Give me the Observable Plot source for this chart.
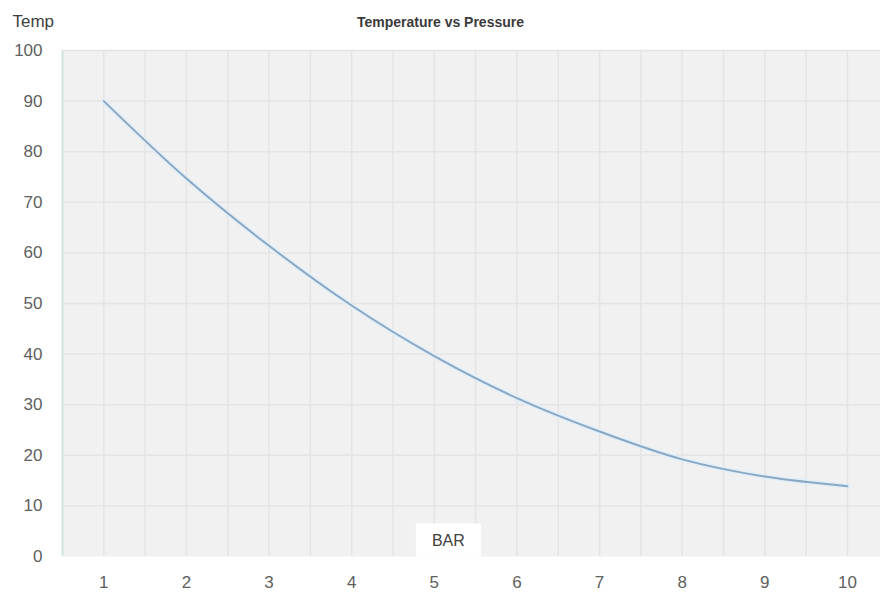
<!DOCTYPE html>
<html>
<head>
<meta charset="utf-8">
<script src="https://cdn.jsdelivr.net/npm/d3@7"></script>
<script src="https://cdn.jsdelivr.net/npm/@observablehq/plot@0.6"></script>
<style>
  html, body { margin: 0; padding: 0; background: #fff; }
  #chart { width: 880px; height: 598px; }
</style>
</head>
<body>
<div id="chart"></div>
<script>
const pressure = [1, 2, 3, 4, 5, 6, 7, 8, 9, 10];
const temperature = [90, 74.7, 61.4, 49.6, 39.6, 31.3, 24.7, 19.2, 15.8, 13.9];
const xTicks = [1, 2, 3, 4, 5, 6, 7, 8, 9, 10];
const yTicks = [0, 10, 20, 30, 40, 50, 60, 70, 80, 90, 100];
const xMinorGrid = [1, 1.5, 2, 2.5, 3, 3.5, 4, 4.5, 5, 5.5, 6, 6.5, 7, 7.5, 8, 8.5, 9, 9.5, 10];
const title = "Temperature vs Pressure";
const yLabel = "Temp";
const xLabel = "BAR";

const data = pressure.map((p, i) => ({p, t: temperature[i]}));

const chart = Plot.plot({
  width: 880,
  height: 598,
  marginLeft: 62,
  marginRight: 0,
  marginTop: 50,
  marginBottom: 42,
  style: {fontFamily: "Liberation Sans, Arial, sans-serif", background: "#fff", color: "#595959"},
  x: {domain: [0.5, 10.4], label: null, axis: null},
  y: {domain: [0, 100], label: null, axis: null},
  marks: [
    Plot.frame({fill: "#f1f1f1", stroke: null}),
    Plot.ruleX(xMinorGrid, {stroke: "#e4e4e4", strokeWidth: 1.5}),
    Plot.ruleY(yTicks.filter(d => d > 0), {stroke: "#e4e4e4", strokeWidth: 1.5}),
    Plot.ruleX([0.5], {stroke: "#cfe5e1", strokeWidth: 2}),
    Plot.line(data, {x: "p", y: "t", curve: "catmull-rom", stroke: "#e2eff8", strokeWidth: 5}),
    Plot.line(data, {x: "p", y: "t", curve: "catmull-rom", stroke: "#8aa8c4", strokeWidth: 2}),
    Plot.text(xTicks, {x: d => d, frameAnchor: "bottom", dy: 31, text: d => String(d), fontSize: 17, fill: "#606060"}),
    Plot.text(yTicks, {y: d => d, frameAnchor: "left", dx: -20, textAnchor: "end", text: d => String(d), fontSize: 17, fill: "#606060"}),
    Plot.text([yLabel], {frameAnchor: "top-left", dx: -50, dy: -36, text: d => d, fontSize: 17, fill: "#404040", textAnchor: "start"}),
    Plot.text([title], {frameAnchor: "top", dx: -31, dy: -33, text: d => d, fontSize: 14, fontWeight: "bold", fill: "#3a3a3a", letterSpacing: "-0.3px"}),
    Plot.text([xLabel], {x: 5.17, frameAnchor: "bottom", dy: -11, text: d => d, fontSize: 16, fill: "#404040", className: "xlabel"})
  ]
});
document.getElementById("chart").appendChild(chart);

// white box behind the x-axis label, sized from the rendered text
const lbl = chart.querySelector(".xlabel text");
if (lbl) {
  const bb = lbl.getBBox();
  const g = lbl.parentNode;
  const tr = lbl.getAttribute("transform");
  const r = document.createElementNS("http://www.w3.org/2000/svg", "rect");
  r.setAttribute("x", bb.x - 16);
  r.setAttribute("y", bb.y - 8);
  r.setAttribute("width", bb.width + 32);
  r.setAttribute("height", bb.height + 16);
  r.setAttribute("fill", "#fff");
  r.setAttribute("stroke", "none");
  if (tr) r.setAttribute("transform", tr);
  g.insertBefore(r, lbl);
}
</script>
</body>
</html>
